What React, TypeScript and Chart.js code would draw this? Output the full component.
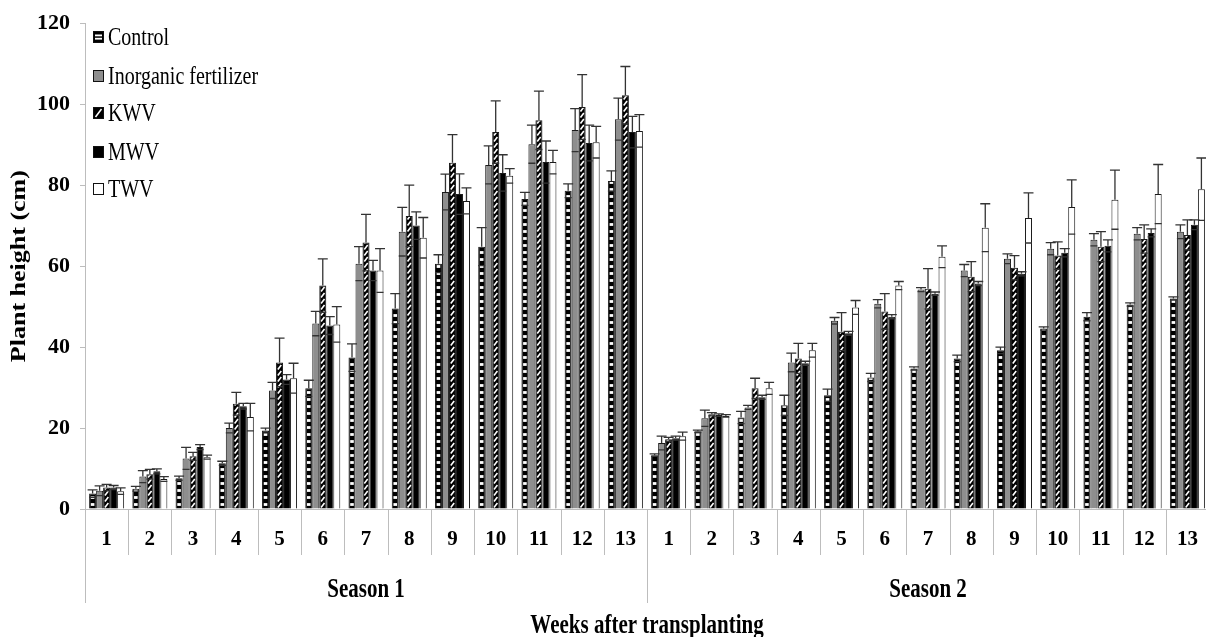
import React, { useEffect, useRef } from 'react';
import { Chart, registerables } from 'chart.js';

Chart.register(...registerables);

// ---- data ----
const weeks = ['1', '2', '3', '4', '5', '6', '7', '8', '9', '10', '11', '12', '13'];
const categories = [...weeks, ...weeks];
const seasons = ['Season 1', 'Season 2'];
const xTitle = 'Weeks after transplanting';
const yTitle = 'Plant height (cm)';
const seriesNames = ['Control', 'Inorganic fertilizer', 'KWV', 'MWV', 'TWV'];
const yTicks = [0, 20, 40, 60, 80, 100, 120];

// Season 1 weeks 1-13 followed by Season 2 weeks 1-13
const controlMean = [3.8, 5.0, 7.6, 11.3, 19.4, 29.8, 37.4, 49.5, 60.6, 64.8, 76.6, 78.6, 81.0,
  13.3, 19.2, 22.6, 25.6, 28.1, 32.5, 34.7, 37.2, 39.2, 44.6, 47.5, 50.5, 52.0];
const controlErr = [0.9, 0.6, 0.5, 0.5, 0.6, 2.0, 3.4, 3.7, 2.2, 4.7, 1.6, 1.7, 2.5,
  0.3, 0.3, 1.5, 2.5, 1.5, 1.0, 0.4, 0.8, 0.8, 0.4, 1.0, 0.4, 0.4];
const inorganicMean = [4.5, 8.0, 12.5, 20.0, 29.3, 45.8, 60.6, 68.5, 78.3, 85.0, 90.1, 93.6, 96.3,
  16.3, 22.4, 25.1, 36.2, 46.5, 50.7, 54.2, 58.9, 61.8, 64.3, 66.5, 68.0, 68.5];
const inorganicErr = [1.2, 1.5, 2.7, 1.2, 2.0, 3.0, 4.2, 6.0, 4.4, 4.7, 4.7, 5.3, 5.2,
  1.7, 2.0, 0.5, 2.3, 0.8, 1.0, 0.5, 1.5, 1.2, 1.5, 1.5, 1.5, 1.7];
const kwvMean = [5.3, 8.6, 13.0, 26.0, 36.2, 55.2, 65.8, 72.4, 85.5, 93.1, 96.0, 99.3, 102.2,
  17.2, 23.4, 29.8, 37.2, 43.8, 48.8, 54.4, 57.4, 59.6, 62.6, 64.8, 66.7, 67.7];
const kwvErr = [0.8, 1.2, 1.0, 2.8, 6.0, 6.6, 7.0, 7.6, 7.0, 7.7, 7.2, 8.0, 7.1,
  0.5, 0.4, 2.5, 3.7, 4.7, 4.4, 5.0, 3.7, 3.0, 3.4, 3.7, 3.5, 3.7];
const mwvMean = [5.3, 9.3, 15.3, 25.4, 32.0, 45.3, 58.9, 70.0, 77.8, 83.0, 85.7, 90.4, 93.1,
  17.5, 23.2, 27.6, 36.0, 43.4, 47.5, 53.2, 55.7, 58.1, 63.3, 65.0, 68.2, 70.2];
const mwvErr = [0.5, 0.6, 0.6, 0.7, 1.2, 2.2, 2.5, 3.4, 5.0, 4.5, 5.2, 4.4, 3.9,
  0.5, 0.3, 0.5, 0.5, 0.5, 0.5, 0.4, 0.5, 0.5, 1.0, 1.5, 1.0, 1.2];
const twvMean = [4.4, 7.4, 12.8, 22.7, 32.3, 45.6, 58.9, 67.0, 76.1, 82.3, 85.7, 90.6, 93.4,
  18.0, 23.0, 29.8, 39.2, 49.8, 55.2, 62.3, 69.5, 71.9, 74.6, 76.4, 77.8, 79.0];
const twvErr = [0.8, 0.6, 0.5, 3.4, 3.7, 4.4, 5.4, 5.0, 3.2, 1.8, 2.9, 3.9, 4.0,
  1.0, 0.3, 1.5, 1.7, 1.7, 1.0, 2.7, 5.9, 6.2, 6.7, 7.3, 7.3, 7.7];

const means = [controlMean, inorganicMean, kwvMean, mwvMean, twvMean];
const errors = [controlErr, inorganicErr, kwvErr, mwvErr, twvErr];
const fills = ['#000000', '#8e8e8e', '#000000', '#000000', '#ffffff'];
const patterns = ['dash', 'none', 'diag', 'none', 'none'];

const SERIF = "'Liberation Serif', 'Times New Roman', serif";
const AXIS_GRAY = '#bdbdbd';

function decorateBar(ctx: CanvasRenderingContext2D, kind: string, x: number, top: number, base: number, w: number) {
  if (kind === 'none') return;
  ctx.save();
  ctx.beginPath();
  ctx.rect(x - w / 2 + 1, top + 1, w - 2, base - top - 1);
  ctx.clip();
  ctx.fillStyle = '#ffffff';
  ctx.strokeStyle = '#ffffff';
  if (kind === 'dash') {
    for (let yy = base - 4; yy > top + 1; yy -= 7) {
      ctx.fillRect(x - 1.8, yy - 1.4, 3.6, 2.8);
    }
  } else if (kind === 'diag') {
    ctx.lineWidth = 1.6;
    for (let yy = base - 1; yy > top - 6; yy -= 6) {
      ctx.beginPath();
      ctx.moveTo(x - w / 2 + 1.8, yy);
      ctx.lineTo(x + w / 2 - 1.8, yy - 4.5);
      ctx.stroke();
    }
  }
  ctx.restore();
}

function drawStretchedText(ctx: CanvasRenderingContext2D, text: string, x: number, y: number, font: string,
  sy: number, align: CanvasTextAlign, baseline: CanvasTextBaseline) {
  ctx.save();
  ctx.translate(x, y);
  ctx.scale(1, sy);
  ctx.font = font;
  ctx.fillStyle = '#000';
  ctx.textAlign = align;
  ctx.textBaseline = baseline;
  ctx.fillText(text, 0, 0);
  ctx.restore();
}

const decorPlugin = {
  id: 'decor',
  afterDatasetsDraw(chart: any) {
    const ctx: CanvasRenderingContext2D = chart.ctx;
    const ys = chart.scales.y;
    chart.data.datasets.forEach((_ds: any, di: number) => {
      const meta = chart.getDatasetMeta(di);
      meta.data.forEach((bar: any, i: number) => {
        const p = bar.getProps(['x', 'y', 'base', 'width'], true);
        decorateBar(ctx, patterns[di], p.x, p.y, p.base, p.width);
        const v = means[di][i];
        const e = errors[di][i];
        const yTop = ys.getPixelForValue(v + e);
        const yLow = ys.getPixelForValue(v - e);
        ctx.save();
        ctx.strokeStyle = '#333333';
        ctx.lineWidth = 1.3;
        ctx.beginPath();
        ctx.moveTo(p.x, p.y);
        ctx.lineTo(p.x, yTop);
        ctx.moveTo(p.x - 5, yTop);
        ctx.lineTo(p.x + 5, yTop);
        ctx.moveTo(p.x - p.width / 2, yLow);
        ctx.lineTo(p.x + p.width / 2, yLow);
        ctx.stroke();
        ctx.restore();
      });
    });
  },
  afterDraw(chart: any) {
    const ctx: CanvasRenderingContext2D = chart.ctx;
    const xs = chart.scales.x;
    const area = chart.chartArea;
    const axisY = area.bottom;
    const n = categories.length;
    const step = (xs.getPixelForValue(1) - xs.getPixelForValue(0));
    // separators
    ctx.save();
    ctx.strokeStyle = AXIS_GRAY;
    ctx.lineWidth = 1;
    for (let k = 0; k <= n; k++) {
      const xb = Math.round(xs.getPixelForValue(k) - step / 2) + 0.5;
      const long = k % weeks.length === 0;
      ctx.beginPath();
      ctx.moveTo(xb, axisY);
      ctx.lineTo(xb, axisY + (long ? 94 : 46));
      ctx.stroke();
    }
    ctx.restore();
    // season labels
    seasons.forEach((s, si) => {
      const x0 = xs.getPixelForValue(si * weeks.length) - step / 2;
      const x1 = xs.getPixelForValue((si + 1) * weeks.length - 1) + step / 2;
      drawStretchedText(ctx, s, (x0 + x1) / 2, 597, `bold 21px ${SERIF}`, 1.3, 'center', 'alphabetic');
    });
    // x title
    drawStretchedText(ctx, xTitle, (area.left + area.right) / 2, 633, `bold 21px ${SERIF}`, 1.3, 'center', 'alphabetic');
    // y title
    ctx.save();
    ctx.translate(20, (area.top + area.bottom) / 2);
    ctx.rotate(-Math.PI / 2);
    ctx.scale(1.3, 1);
    ctx.font = `bold 20px ${SERIF}`;
    ctx.fillStyle = '#000';
    ctx.textAlign = 'center';
    ctx.textBaseline = 'middle';
    ctx.fillText(yTitle, 0, 0);
    ctx.restore();
    // legend
    const rows = [37, 76, 113, 152, 189];
    seriesNames.forEach((name, si) => {
      const yc = rows[si];
      const bx = 93, bw = 11, bh = 12;
      ctx.save();
      ctx.fillStyle = fills[si];
      ctx.fillRect(bx, yc - bh / 2, bw, bh);
      ctx.fillStyle = '#fff';
      ctx.strokeStyle = '#fff';
      if (patterns[si] === 'dash') {
        ctx.fillRect(bx + 2, yc - 2.5, bw - 4, 1.8);
        ctx.fillRect(bx + 2, yc + 0.8, bw - 4, 1.8);
      } else if (patterns[si] === 'diag') {
        ctx.lineWidth = 1.6;
        ctx.beginPath();
        ctx.moveTo(bx + 2.5, yc + 4);
        ctx.lineTo(bx + bw - 2.5, yc - 4);
        ctx.stroke();
      }
      ctx.strokeStyle = '#111';
      ctx.lineWidth = 1;
      ctx.strokeRect(bx + 0.5, yc - bh / 2 + 0.5, bw - 1, bh - 1);
      ctx.restore();
      drawStretchedText(ctx, name, 108, yc + 1, `20px ${SERIF}`, 1.25, 'left', 'middle');
    });
  },
};

export default function App() {
  const ref = useRef<HTMLCanvasElement>(null);
  useEffect(() => {
    document.body.style.margin = '0';
    const canvas = ref.current;
    if (!canvas) return;
    const chart = new Chart(canvas, {
      type: 'bar',
      data: {
        labels: categories,
        datasets: seriesNames.map((name, i) => ({
          label: name,
          data: means[i],
          backgroundColor: fills[i],
          borderColor: '#1a1a1a',
          borderWidth: 1,
          categoryPercentage: 0.81,
          barPercentage: 1,
        })),
      },
      options: {
        animation: false,
        responsive: false,
        layout: { padding: { top: 23, right: 5, left: 0, bottom: 0 } },
        plugins: {
          legend: { display: false },
          tooltip: { enabled: false },
        },
        scales: {
          x: {
            grid: { display: false, drawTicks: false },
            border: { display: true, color: AXIS_GRAY, width: 1 },
            ticks: {
              font: { family: SERIF, size: 21, weight: 'bold' },
              color: '#000',
              padding: 18,
              maxRotation: 0,
              autoSkip: false,
            },
            afterFit: (s: any) => { s.height = 128; },
          },
          y: {
            min: yTicks[0],
            max: yTicks[yTicks.length - 1],
            ticks: {
              stepSize: 20,
              font: { family: SERIF, size: 22, weight: 'bold' },
              color: '#000',
              padding: 10,
            },
            grid: { drawOnChartArea: false, drawTicks: true, tickLength: 5, color: AXIS_GRAY },
            border: { display: true, color: AXIS_GRAY, width: 1 },
            afterFit: (s: any) => { s.width = 85; },
          },
        },
      },
      plugins: [decorPlugin],
    } as any);
    return () => chart.destroy();
  }, []);
  return (
    <div style={{ position: 'fixed', left: 0, top: 0, width: 1216, height: 637, background: '#fff', overflow: 'hidden' }}>
      <canvas ref={ref} width={1216} height={637} style={{ display: 'block' }} />
    </div>
  );
}
